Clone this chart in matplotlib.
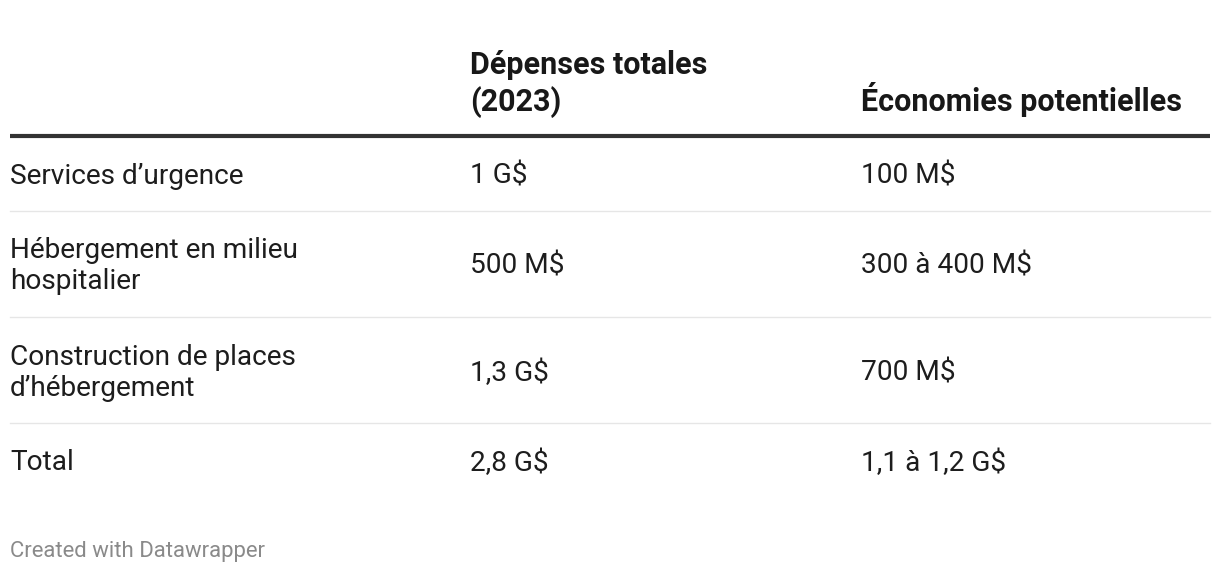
import matplotlib.pyplot as plt

plt.rcParams['font.family'] = ['Roboto', 'DejaVu Sans']

# table content
headers = ["", "Dépenses totales\n(2023)", "Économies potentielles"]
categories = ["Services d\u2019urgence",
              "Hébergement en milieu\nhospitalier",
              "Construction de places\nd\u2019hébergement",
              "Total"]
depenses = ["1 G$", "500 M$", "1,3 G$", "2,8 G$"]
economies = ["100 M$", "300 à 400 M$", "700 M$", "1,1 à 1,2 G$"]

W, H = 1220, 572
fig = plt.figure(figsize=(W / 100, H / 100), dpi=100)
ax = fig.add_axes([0, 0, 1, 1])
ax.set_xlim(0, W)
ax.set_ylim(H, 0)
ax.axis('off')

col_x = [10, 470, 861]
row_y = [176, 266, 373, 463]
sep_y = [211, 317, 423]
txt_color = '#1d1d1d'
fs = 20.2

# header (bottom aligned)
for x, h in zip(col_x, headers):
    ax.text(x, 111, h, fontsize=22, fontweight='bold', color='#181818',
            ha='left', va='baseline', linespacing=1.23)

ax.plot([10, 1210], [136, 136], color='#333333', lw=3, solid_capstyle='butt')
for y in sep_y:
    ax.plot([10, 1210], [y, y], color='#e6e6e6', lw=1)

for y, c, d, e in zip(row_y, categories, depenses, economies):
    ax.text(col_x[0], y, c, fontsize=fs, color=txt_color, ha='left', va='center', linespacing=1.17)
    ax.text(col_x[1], y, d, fontsize=fs, color=txt_color, ha='left', va='center')
    ax.text(col_x[2], y, e, fontsize=fs, color=txt_color, ha='left', va='center')

ax.text(10, 552, "Created with Datawrapper", fontsize=15.9, color='#8a8a8a',
        ha='left', va='center')

fig.savefig('out.png', dpi=100)
